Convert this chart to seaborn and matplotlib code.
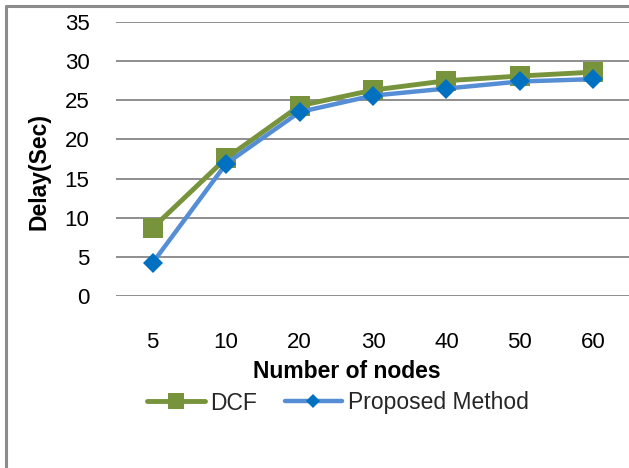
import matplotlib
matplotlib.use("Agg")
import matplotlib.pyplot as plt
import seaborn as sns
import pandas as pd
from matplotlib.lines import Line2D

nodes = ["5", "10", "20", "30", "40", "50", "60"]
dcf = [8.7, 17.6, 24.3, 26.3, 27.5, 28.1, 28.6]
proposed = [4.25, 16.9, 23.5, 25.6, 26.5, 27.4, 27.7]
yticks = [0, 5, 10, 15, 20, 25, 30, 35]

sns.set_theme(style="white")
plt.rcParams["font.family"] = ["Liberation Sans", "DejaVu Sans"]

W, H = 629, 468
fig = plt.figure(figsize=(W / 100, H / 100), dpi=100)
ax = fig.add_axes([116 / W, 1 - 296 / H, 514 / W, 274 / H])

df_dcf = pd.DataFrame({"nodes": nodes, "delay": dcf})
df_prop = pd.DataFrame({"nodes": nodes, "delay": proposed})

sns.lineplot(data=df_dcf, x="nodes", y="delay", ax=ax, sort=False,
             color="#77933C", linewidth=3.5, marker="s", markersize=14.5,
             markeredgewidth=0, markerfacecolor="#77933C", label="DCF")
sns.lineplot(data=df_prop, x="nodes", y="delay", ax=ax, sort=False,
             color="#558ED5", linewidth=3.2, marker="D", markersize=10,
             markeredgewidth=0, markerfacecolor="#0070C0", label="Proposed Method")

ax.set_xlim(-0.5, 6.5)
ax.set_ylim(0, 35)
ax.set_yticks(yticks)
ax.set_yticklabels([str(v) for v in yticks])
for s in ax.spines.values():
    s.set_visible(False)
ax.grid(axis="y", color="#868686", linewidth=1.3)
ax.grid(axis="x", visible=False)
ax.set_axisbelow(True)
ax.tick_params(axis="y", length=0, pad=19, labelsize=16, colors="black")
ax.tick_params(axis="x", length=0, pad=26, labelsize=16, colors="black")

ax.set_xlabel("Number of nodes", fontsize=16.5, fontweight="bold", color="black")
ax.set_ylabel("Delay(Sec)", fontsize=16.5, fontweight="bold", color="black")
ax.xaxis.label.set_va("center")
ax.yaxis.label.set_va("center")
ax.xaxis.set_label_coords((347 - 116) / 514, (296 - 371) / 274)
ax.yaxis.set_label_coords((39 - 116) / 514, (296 - 172) / 274)

ax.get_legend().remove()
handles, labels = ax.get_legend_handles_labels()
fig.legend(handles, labels, loc="center", bbox_to_anchor=(338 / W, 1 - 403 / H),
           ncol=2, frameon=False, fontsize=16.5, handlelength=2.5,
           handletextpad=0.25, columnspacing=1.2, markerscale=0.75,
           borderaxespad=0, borderpad=0)

frame_c = "#8c8c8c"
fig.add_artist(Line2D([6 / W, 1], [1 - 6 / H, 1 - 6 / H], transform=fig.transFigure,
                      color=frame_c, linewidth=2.2))
fig.add_artist(Line2D([6 / W, 6 / W], [0, 1 - 6 / H], transform=fig.transFigure,
                      color=frame_c, linewidth=2.2))

fig.savefig("out.png", dpi=100)
